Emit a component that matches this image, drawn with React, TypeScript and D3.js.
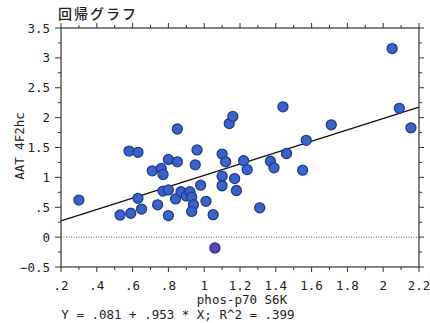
import React from "react";
import * as d3 from "d3";

const xValues = [0.30, 0.53, 0.59, 0.65, 0.63, 0.74, 0.80, 0.58, 0.63, 0.85, 0.71, 0.76, 0.77, 0.80, 0.85, 0.95, 0.96,
  0.77, 0.80, 0.84, 0.87, 0.90, 0.92, 0.93, 0.94, 0.93, 0.98, 1.01, 1.05, 1.06,
  1.10, 1.12, 1.14, 1.16, 1.22, 1.24, 1.10, 1.17, 1.10, 1.18, 1.31, 1.37, 1.39, 1.44, 1.46, 1.55, 1.57, 1.71, 2.05, 2.09, 2.155];
const yValues = [0.62, 0.37, 0.40, 0.47, 0.65, 0.54, 0.36, 1.44, 1.42, 1.81, 1.11, 1.15, 1.05, 1.30, 1.26, 1.21, 1.46,
  0.77, 0.79, 0.64, 0.76, 0.69, 0.76, 0.67, 0.54, 0.43, 0.87, 0.60, 0.375, -0.18,
  1.39, 1.26, 1.90, 2.02, 1.28, 1.13, 1.02, 0.98, 0.86, 0.78, 0.49, 1.27, 1.16, 2.18, 1.40, 1.12, 1.62, 1.88, 3.155, 2.155, 1.83];
const outlierIndex = 29;

const intercept = 0.081;
const slope = 0.953;

const xMajorTicks = [0.2, 0.4, 0.6, 0.8, 1.0, 1.2, 1.4, 1.6, 1.8, 2.0, 2.2];
const xMinorTicks = [0.3, 0.5, 0.7, 0.9, 1.1, 1.3, 1.5, 1.7, 1.9, 2.1];
const yMajorTicks = [-0.5, 0, 0.5, 1, 1.5, 2, 2.5, 3, 3.5];
const yMinorTicks = [-0.25, 0.25, 0.75, 1.25, 1.75, 2.25, 2.75, 3.25];

const title = "回帰グラフ";
const xLabel = "phos-p70 S6K";
const yLabel = "AAT 4F2hc";
const equation = "Y = .081 + .953 * X; R^2 = .399";

const fmt = (v: number) => {
  const s = d3.format("")(Math.round(v * 100) / 100);
  return s.replace(/^0\./, ".").replace(/^-0\./, "-.");
};

export default function App() {
  const W = 430, H = 323;
  const left = 61, right = 419, top = 28, bottom = 267;
  const x = d3.scaleLinear().domain([0.2, 2.2]).range([left, right]);
  const y = d3.scaleLinear().domain([-0.5, 3.5]).range([bottom, top]);
  const mono = "'DejaVu Sans Mono', monospace";
  const axisColor = "#333";
  const lineGen = d3.line<number>().x((d) => x(d)).y((d) => y(intercept + slope * d));

  return (
    <svg width={W} height={H} style={{ position: "absolute", left: 0, top: 0, background: "#fff" }}>
      <text x={58} y={19} fontFamily="'Noto Sans CJK JP', sans-serif" fontSize={14} fontWeight={500} letterSpacing={2} fill="#222">{title}</text>

      {/* zero line */}
      <line x1={left} x2={right} y1={y(0)} y2={y(0)} stroke="#555" strokeWidth={1} strokeDasharray="1,1.5" />

      {/* regression line */}
      <path d={lineGen([0.2, 2.2]) || ""} stroke="#111" strokeWidth={1.3} fill="none" />

      {/* points */}
      {xValues.map((xv, i) => (
        <circle key={i} cx={x(xv)} cy={y(yValues[i])} r={5}
          fill={i === outlierIndex ? "#5a48b8" : "#3d62c6"}
          stroke={i === outlierIndex ? "#33257f" : "#1f3c92"} strokeWidth={1.3} />
      ))}

      {/* frame */}
      <rect x={left} y={top} width={right - left} height={bottom - top} fill="none" stroke={axisColor} strokeWidth={1.2} />

      {/* x ticks */}
      {xMajorTicks.map((t) => (
        <g key={"xM" + t}>
          <line x1={x(t)} x2={x(t)} y1={bottom} y2={bottom + 5} stroke={axisColor} />
          <line x1={x(t)} x2={x(t)} y1={top} y2={top - 5} stroke={axisColor} />
          <text x={x(t)} y={290} textAnchor="middle" fontFamily={mono} fontSize={12.5} fill="#222">{fmt(t)}</text>
        </g>
      ))}
      {xMinorTicks.map((t) => (
        <g key={"xm" + t}>
          <line x1={x(t)} x2={x(t)} y1={bottom} y2={bottom + 3} stroke={axisColor} />
          <line x1={x(t)} x2={x(t)} y1={top} y2={top - 3} stroke={axisColor} />
        </g>
      ))}

      {/* y ticks */}
      {yMajorTicks.map((t) => (
        <g key={"yM" + t}>
          <line x1={left} x2={left - 6} y1={y(t)} y2={y(t)} stroke={axisColor} />
          <line x1={right} x2={right + 5} y1={y(t)} y2={y(t)} stroke={axisColor} />
          <text x={50} y={y(t) + 4.5} textAnchor="end" fontFamily={mono} fontSize={12.5} fill="#222">{fmt(t)}</text>
        </g>
      ))}
      {yMinorTicks.map((t) => (
        <g key={"ym" + t}>
          <line x1={left} x2={left - 3} y1={y(t)} y2={y(t)} stroke={axisColor} />
          <line x1={right} x2={right + 3} y1={y(t)} y2={y(t)} stroke={axisColor} />
        </g>
      ))}

      <text x={242} y={304} textAnchor="middle" fontFamily={mono} fontSize={12.5} fill="#222">{xLabel}</text>
      <text x={178} y={319} textAnchor="middle" fontFamily={mono} fontSize={12.5} fill="#222">{equation}</text>
      <text transform={`translate(24,146) rotate(-90)`} textAnchor="middle" fontFamily={mono} fontSize={12.5} fill="#222">{yLabel}</text>
    </svg>
  );
}
